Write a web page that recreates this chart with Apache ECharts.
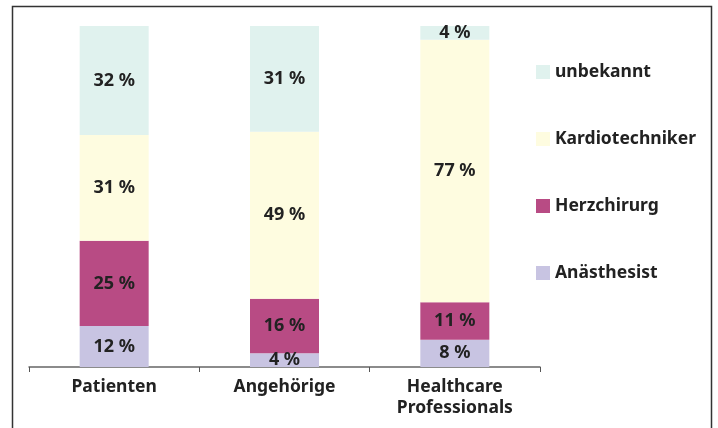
<!DOCTYPE html>
<html>
<head>
<meta charset="utf-8">
<script src="https://cdn.jsdelivr.net/npm/echarts@6/dist/echarts.min.js"></script>
<style>
  html, body { margin: 0; padding: 0; background: #fff; }
  #chart { width: 718px; height: 428px; }
</style>
</head>
<body>
<div id="chart"></div>
<script>
const categories = ['Patienten', 'Angehörige', 'Healthcare\nProfessionals']
const anaesthesist = [12, 4, 8]
const herzchirurg = [25, 16, 11]
const kardiotechniker = [31, 49, 77]
const unbekannt = [32, 31, 4]

const font = '"Noto Sans", "Open Sans", sans-serif'

function bar(name, data, color) {
  return {
    name: name, type: 'bar', stack: 'total', data: data,
    barWidth: 69,
    itemStyle: { color: color },
    label: {
      show: true, position: 'inside',
      formatter: '{c} %',
      color: '#222', fontSize: 18, fontWeight: 'bold', fontFamily: font
    }
  }
}

const chart = echarts.init(document.getElementById('chart'))
chart.setOption({
  animation: false,
  grid: { left: 29, right: 178, top: 26, bottom: 61 },
  legend: {
    orient: 'vertical',
    left: 531, top: 57,
    itemWidth: 14, itemHeight: 14,
    itemGap: 47,
    icon: 'rect',
    data: ['unbekannt', 'Kardiotechniker', 'Herzchirurg', 'Anästhesist'],
    textStyle: { color: '#222', fontSize: 17.5, fontWeight: 'bold', fontFamily: font, lineHeight: 20 }
  },
  xAxis: {
    type: 'category', data: categories,
    axisLine: { lineStyle: { color: '#666', width: 1.5 } },
    axisTick: { show: true, length: 5, lineStyle: { color: '#555' } },
    axisLabel: {
      color: '#222', fontSize: 17.5, fontWeight: 'bold', fontFamily: font,
      lineHeight: 21, margin: 10
    }
  },
  yAxis: { type: 'value', min: 0, max: 100, show: false },
  graphic: [{
    type: 'rect',
    shape: { x: 12.5, y: 6.5, width: 699, height: 440 },
    style: { fill: null, stroke: '#333', lineWidth: 1.5 },
    silent: true
  }],
  series: [
    bar('Anästhesist', anaesthesist, '#c8c4e2'),
    bar('Herzchirurg', herzchirurg, '#b84b84'),
    bar('Kardiotechniker', kardiotechniker, '#fefce0'),
    bar('unbekannt', unbekannt, '#e0f2ee')
  ]
})
</script>
</body>
</html>
